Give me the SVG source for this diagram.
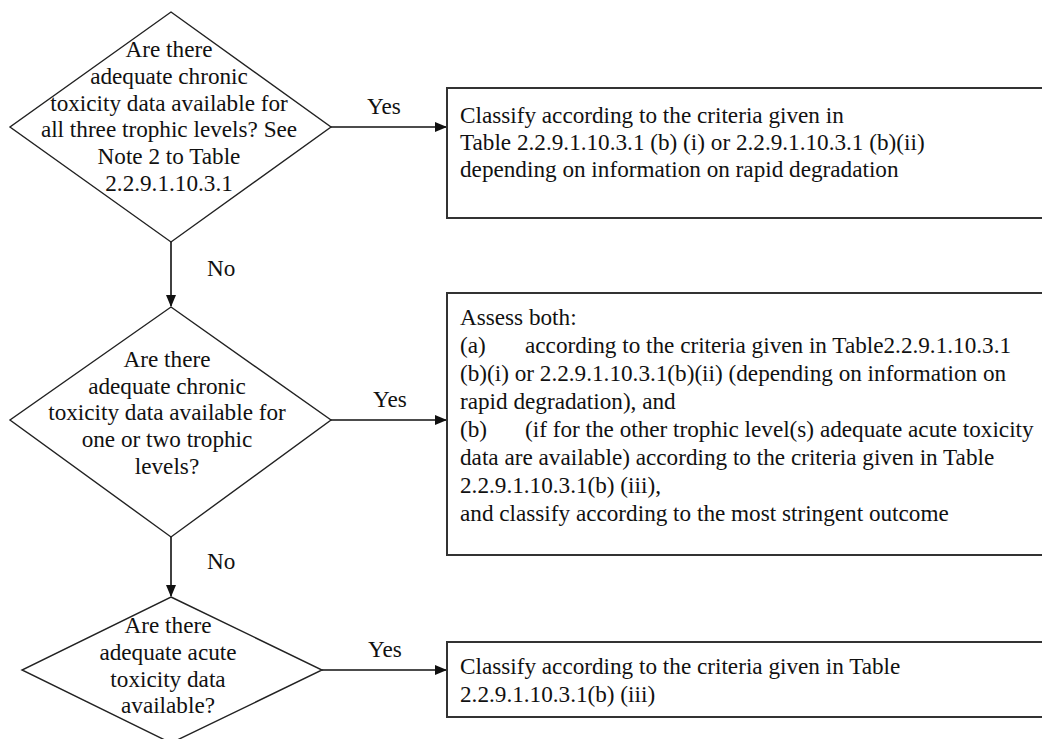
<svg xmlns="http://www.w3.org/2000/svg" width="1042" height="739" viewBox="0 0 1042 739">
<style>
text{font-family:"Liberation Serif","Times New Roman",serif;font-size:23.2px;fill:#111}
.c{text-anchor:middle}
.d{fill:#fff;stroke:#222;stroke-width:1.4}
.b{fill:#fff;stroke:#333;stroke-width:2}
.l{stroke:#111;stroke-width:1.6;fill:none}
</style>
<defs>
<marker id="ah" markerWidth="12" markerHeight="10" refX="11" refY="5" orient="auto" markerUnits="userSpaceOnUse">
<path d="M0,0 L12,5 L0,10 Z" fill="#111"/>
</marker>
</defs>
<g id="connectors">
<line class="l" x1="331" y1="127" x2="446" y2="127" marker-end="url(#ah)"/>
<text x="367" y="114">Yes</text>
<line class="l" x1="171" y1="242" x2="171" y2="306" marker-end="url(#ah)"/>
<text x="207" y="276">No</text>
<line class="l" x1="331" y1="420" x2="446" y2="420" marker-end="url(#ah)"/>
<text x="373" y="407">Yes</text>
<line class="l" x1="171" y1="537" x2="171" y2="596" marker-end="url(#ah)"/>
<text x="207" y="569">No</text>
<line class="l" x1="322" y1="670" x2="446" y2="670" marker-end="url(#ah)"/>
<text x="368" y="657">Yes</text>
</g>
<g id="q1">
<polygon class="d" points="171,12 331,127 171,242 10,127"/>
<text class="c" x="169" y="57">Are there</text>
<text class="c" x="169" y="84">adequate chronic</text>
<text class="c" x="169" y="111">toxicity data available for</text>
<text class="c" x="169" y="137">all three trophic levels? See</text>
<text class="c" x="169" y="164">Note 2 to Table</text>
<text class="c" x="169" y="191">2.2.9.1.10.3.1</text>
</g>
<g id="q2">
<polygon class="d" points="171,307 331,420 171,537 10,420"/>
<text class="c" x="167" y="367">Are there</text>
<text class="c" x="167" y="394">adequate chronic</text>
<text class="c" x="167" y="420">toxicity data available for</text>
<text class="c" x="167" y="447">one or two trophic</text>
<text class="c" x="167" y="474">levels?</text>
</g>
<g id="q3">
<polygon class="d" points="171,597 322,670 171,743 22,670"/>
<text class="c" x="168" y="633">Are there</text>
<text class="c" x="168" y="660">adequate acute</text>
<text class="c" x="168" y="687">toxicity data</text>
<text class="c" x="168" y="713">available?</text>
</g>
<g id="r1">
<rect class="b" x="447" y="88" width="610" height="130"/>
<text x="460" y="123">Classify according to the criteria given in</text>
<text x="460" y="150">Table 2.2.9.1.10.3.1 (b) (i) or 2.2.9.1.10.3.1 (b)(ii)</text>
<text x="460" y="177">depending on information on rapid degradation</text>
</g>
<g id="r2">
<rect class="b" x="447" y="293" width="610" height="262"/>
<text x="460" y="325">Assess both:</text>
<text x="460" y="353">(a)</text>
<text x="525" y="353">according to the criteria given in Table2.2.9.1.10.3.1</text>
<text x="460" y="381">(b)(i) or 2.2.9.1.10.3.1(b)(ii) (depending on information on</text>
<text x="460" y="409">rapid degradation), and</text>
<text x="460" y="437">(b)</text>
<text x="525" y="437">(if for the other trophic level(s) adequate acute toxicity</text>
<text x="460" y="465">data are available) according to the criteria given in Table</text>
<text x="460" y="493">2.2.9.1.10.3.1(b) (iii),</text>
<text x="460" y="521">and classify according to the most stringent outcome</text>
</g>
<g id="r3">
<rect class="b" x="447" y="642" width="610" height="75"/>
<text x="460" y="674">Classify according to the criteria given in Table</text>
<text x="460" y="702">2.2.9.1.10.3.1(b) (iii)</text>
</g>
</svg>
